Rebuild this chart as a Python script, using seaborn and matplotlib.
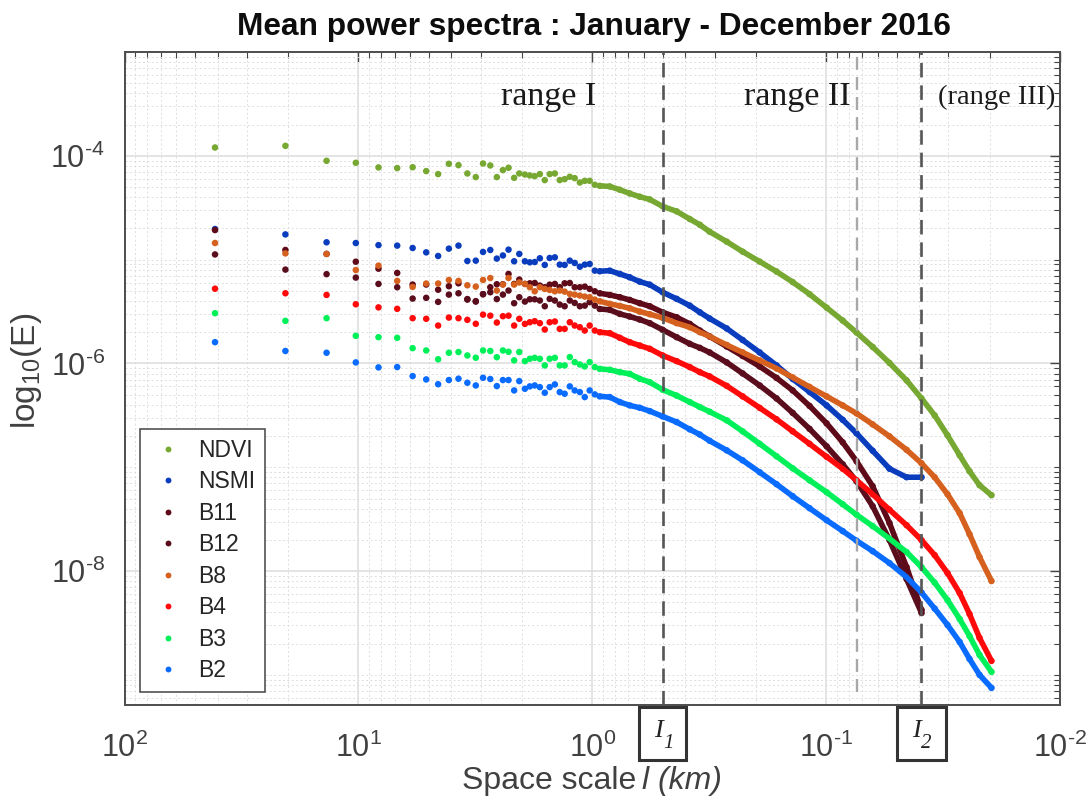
import matplotlib
matplotlib.use("Agg")
import matplotlib.pyplot as plt
from matplotlib.patches import Rectangle
from matplotlib.ticker import FixedLocator, FixedFormatter, LogLocator, NullFormatter
import numpy as np
import pandas as pd
import seaborn as sns

# log10 of the space scale l (km)
log_scale = [1.613, 1.312, 1.136, 1.011, 0.914, 0.834, 0.768, 0.710, 0.659, 0.613,
             0.572, 0.534, 0.498, 0.467, 0.436, 0.408, 0.382, 0.358, 0.334, 0.312,
             0.288, 0.267, 0.246, 0.224, 0.203, 0.182, 0.160, 0.139, 0.118, 0.096,
             0.075, 0.053, 0.032, 0.011, -0.011, -0.032, -0.075, -0.118, -0.160, -0.203,
             -0.246, -0.301, -0.361, -0.417, -0.460,
             -0.502, -0.575, -0.643, -0.716, -0.788, -0.857, -0.929, -1.002, -1.071, -1.130,
             -1.199, -1.271, -1.344, -1.408, -1.464, -1.519, -1.571, -1.613, -1.656, -1.707]

# log10(E) per series
ndvi = [-3.92, -3.904, -4.048, -4.067, -4.112, -4.118, -4.11, -4.147, -4.176, -4.077,
        -4.09, -4.17, -4.205, -4.074, -4.093, -4.205, -4.138, -4.115, -4.212, -4.17,
        -4.180, -4.189, -4.196, -4.176, -4.234, -4.176, -4.170, -4.234, -4.225, -4.202,
        -4.215, -4.257, -4.241, -4.241, -4.279, -4.289, -4.295, -4.327, -4.362, -4.394,
        -4.420, -4.487, -4.535, -4.609, -4.664,
        -4.731, -4.827, -4.923, -5.019, -5.115, -5.216, -5.332, -5.462, -5.587, -5.702,
        -5.841, -5.995, -6.163, -6.337, -6.5, -6.692, -6.885, -7.038, -7.173, -7.269]
nsmi = [-4.705, -4.757, -4.833, -4.84, -4.86, -4.865, -4.888, -4.93, -4.965, -4.894,
        -4.865, -5.013, -5.01, -4.926, -4.907, -4.99, -4.96, -4.904, -5.016, -4.945,
        -5.016, -5.026, -5.023, -4.987, -5.051, -4.984, -4.978, -5.048, -5.051, -5.010,
        -5.032, -5.068, -5.048, -5.042, -5.106, -5.112, -5.106, -5.138, -5.170, -5.212,
        -5.241, -5.314, -5.378, -5.443, -5.507,
        -5.567, -5.663, -5.774, -5.894, -6.019, -6.149, -6.274, -6.404, -6.543, -6.673,
        -6.841, -7.014, -7.096, -7.096]
b11 = [-4.715, -4.907, -4.945, -5.02, -5.087, -5.128, -5.24, -5.24, -5.29, -5.256,
       -5.228, -5.38, -5.40, -5.333, -5.266, -5.237, -5.237, -5.138, -5.234, -5.192,
       -5.234, -5.228, -5.225, -5.250, -5.266, -5.241, -5.234, -5.266, -5.228, -5.225,
       -5.266, -5.266, -5.260, -5.282, -5.305, -5.324, -5.340, -5.362, -5.388, -5.420,
       -5.449, -5.507, -5.555, -5.619, -5.683,
       -5.740, -5.837, -5.928, -6.029, -6.139, -6.260, -6.409, -6.577, -6.760, -6.942,
       -7.183, -7.538, -7.962, -8.375]
b12 = [-4.95, -5.096, -5.14, -5.173, -5.234, -5.266, -5.375, -5.368, -5.407, -5.337,
       -5.324, -5.385, -5.404, -5.333, -5.314, -5.38, -5.337, -5.298, -5.42, -5.362,
       -5.404, -5.382, -5.382, -5.394, -5.449, -5.378, -5.394, -5.433, -5.449, -5.394,
       -5.417, -5.449, -5.443, -5.410, -5.443, -5.475, -5.484, -5.523, -5.548, -5.577,
       -5.612, -5.676, -5.747, -5.811, -5.850,
       -5.894, -5.990, -6.096, -6.212, -6.337, -6.476, -6.630, -6.798, -6.971, -7.135,
       -7.375, -7.702, -8.077, -8.404]
b8 = [-4.84, -4.94, -4.945, -5.10, -5.058, -5.205, -5.263, -5.23, -5.23, -5.196,
      -5.205, -5.247, -5.26, -5.196, -5.177, -5.298, -5.24, -5.177, -5.24, -5.22,
      -5.234, -5.266, -5.305, -5.266, -5.282, -5.292, -5.305, -5.298, -5.308, -5.330,
      -5.337, -5.346, -5.356, -5.362, -5.385, -5.401, -5.426, -5.446, -5.468, -5.500,
      -5.526, -5.561, -5.612, -5.651, -5.699,
      -5.740, -5.822, -5.894, -5.971, -6.048, -6.135, -6.226, -6.317, -6.404, -6.481,
      -6.587, -6.702, -6.832, -6.962, -7.096, -7.260, -7.442, -7.644, -7.865, -8.096]
b4 = [-5.28, -5.324, -5.34, -5.43, -5.46, -5.474, -5.564, -5.57, -5.635, -5.558,
      -5.564, -5.58, -5.618, -5.53, -5.54, -5.606, -5.545, -5.54, -5.635, -5.57,
      -5.619, -5.603, -5.593, -5.612, -5.673, -5.603, -5.596, -5.667, -5.667, -5.603,
      -5.635, -5.651, -5.683, -5.635, -5.683, -5.699, -5.709, -5.753, -5.795, -5.827,
      -5.859, -5.923, -5.978, -6.035, -6.084,
      -6.125, -6.216, -6.317, -6.428, -6.538, -6.654, -6.774, -6.899, -7.014, -7.125,
      -7.260, -7.409, -7.558, -7.702, -7.846, -8.019, -8.212, -8.413, -8.644, -8.865]
b3 = [-5.516, -5.59, -5.564, -5.734, -5.747, -5.753, -5.853, -5.875, -5.96, -5.897,
      -5.89, -5.923, -5.945, -5.875, -5.88, -5.94, -5.875, -5.888, -5.97, -5.89,
      -5.978, -5.955, -5.946, -5.955, -6.019, -5.955, -5.946, -6.019, -6.019, -5.939,
      -5.987, -6.010, -6.029, -5.987, -6.035, -6.052, -6.061, -6.084, -6.100, -6.148,
      -6.180, -6.253, -6.310, -6.372, -6.420,
      -6.465, -6.548, -6.654, -6.774, -6.894, -7.010, -7.125, -7.240, -7.356, -7.457,
      -7.567, -7.688, -7.817, -7.962, -8.111, -8.279, -8.462, -8.625, -8.808, -8.971]
b2 = [-5.795, -5.88, -5.897, -5.99, -6.038, -6.035, -6.122, -6.154, -6.2, -6.16,
      -6.147, -6.186, -6.212, -6.138, -6.15, -6.218, -6.16, -6.16, -6.26, -6.17,
      -6.244, -6.221, -6.212, -6.228, -6.282, -6.228, -6.202, -6.276, -6.292, -6.221,
      -6.260, -6.276, -6.324, -6.260, -6.298, -6.317, -6.324, -6.372, -6.404, -6.427,
      -6.459, -6.510, -6.565, -6.635, -6.685,
      -6.745, -6.837, -6.933, -7.048, -7.163, -7.279, -7.394, -7.510, -7.615, -7.707,
      -7.808, -7.923, -8.058, -8.207, -8.361, -8.519, -8.683, -8.846, -9.0, -9.125]

names = ["NDVI", "NSMI", "B11", "B12", "B8", "B4", "B3", "B2"]
series = [ndvi, nsmi, b11, b12, b8, b4, b3, b2]
colors = ["#76A832", "#0A3CBE", "#5E0A18", "#5A0D1C", "#D6601E", "#FF0A0A", "#00F05A", "#0A6CFF"]

l1_km, mid_km, l2_km = 0.5, 0.074, 0.0393

sns.set_theme(style="white")
plt.rcParams.update({
    "font.family": ["Liberation Sans", "DejaVu Sans"],
    "mathtext.fontset": "custom",
    "mathtext.rm": "Liberation Sans",
    "mathtext.it": "Liberation Sans:italic",
    "mathtext.bf": "Liberation Sans:bold",
    "mathtext.default": "regular",
})

rows = []
for name, vals in zip(names, series):
    for lx, ly in zip(log_scale, vals):
        rows.append({"series": name, "l": 10.0 ** lx, "E": 10.0 ** ly})
df = pd.DataFrame(rows)
palette = dict(zip(names, colors))

W, H = 1092, 798
L, R, T, B = 124.5, 1060, 52, 705
fig = plt.figure(figsize=(W / 100, H / 100), dpi=100, facecolor="white")
ax = fig.add_axes([L / W, (H - B) / H, (R - L) / W, (B - T) / H])

sns.lineplot(data=df[df["l"] <= 0.93], x="l", y="E", hue="series", hue_order=names, palette=palette,
             estimator=None, sort=False, lw=4.0, legend=False, ax=ax, solid_capstyle="round")
sns.scatterplot(data=df, x="l", y="E", hue="series", hue_order=names, palette=palette,
                s=22, linewidth=0, ax=ax, zorder=1.5)

ax.set_xscale("log")
ax.set_yscale("log")
ax.set_xlim(100, 0.01)
ax.set_ylim(10 ** -9.29, 1e-3)

ax.xaxis.set_major_locator(FixedLocator([1e2, 1e1, 1e0, 1e-1, 1e-2]))
ax.xaxis.set_major_formatter(FixedFormatter([r"$10^{2}$", r"$10^{1}$", r"$10^{0}$", r"$10^{\text{-}1}$", r"$10^{\text{-}2}$"]))
ax.yaxis.set_major_locator(FixedLocator([1e-8, 1e-6, 1e-4]))
ax.yaxis.set_major_formatter(FixedFormatter([r"$10^{\text{-}8}$", r"$10^{\text{-}6}$", r"$10^{\text{-}4}$"]))
ax.xaxis.set_minor_locator(LogLocator(base=10, subs=range(2, 10), numticks=50))
ax.yaxis.set_minor_locator(LogLocator(base=10, subs=range(1, 10), numticks=50))
ax.xaxis.set_minor_formatter(NullFormatter())
ax.yaxis.set_minor_formatter(NullFormatter())

ax.set_axisbelow(True)
ax.grid(True, which="major", color="#dcdcdc", lw=1.1, ls="-")
ax.grid(True, which="minor", color="#dedede", lw=0.7, ls=(0, (2, 2.5)))
ax.tick_params(which="major", direction="in", length=7, width=1.0, color="#444444",
               labelsize=22, labelcolor="#404040", top=True, right=True, pad=14)
ax.tick_params(axis="x", which="major", pad=20)
ax.tick_params(which="minor", direction="in", length=4, width=0.8, color="#444444", top=True, right=True)
for s in ax.spines.values():
    s.set_color("#4d4d4d")
    s.set_linewidth(1.4)

ax.axvline(l1_km, color="#555555", lw=1.9, ls=(0, (5.5, 3)), zorder=4)
ax.axvline(mid_km, color="#a8a8a8", lw=1.7, ls=(0, (5.5, 3)), ymin=0.02, zorder=4)
ax.axvline(l2_km, color="#555555", lw=1.9, ls=(0, (5.5, 3)), zorder=4)

ax.set_xlabel("")
ax.set_ylabel("")
fig.text(636 / W, 1 - 781 / H, "Space scale", ha="right", va="center", fontsize=23, color="#404040")
fig.text(642 / W, 1 - 781 / H, "l (km)", ha="left", va="center", fontsize=23, style="italic", color="#404040")
fig.text(26 / W, 1 - 371 / H, r"$log_{10}(E)$", rotation=90, ha="center", va="center",
         fontsize=24, color="#404040")
fig.text(593.5 / W, 1 - 27 / H, "Mean power spectra : January - December 2016", ha="center", va="center",
         fontsize=22.8, fontweight="bold", color="#0d0d0d")

serif = ["Liberation Serif", "DejaVu Serif"]
fig.text(549 / W, 1 - 97 / H, "range I", ha="center", va="center", family=serif, fontsize=24.5, color="#1a1a1a")
fig.text(797 / W, 1 - 97 / H, "range II", ha="center", va="center", family=serif, fontsize=24.5, color="#1a1a1a")
fig.text(997 / W, 1 - 97 / H, "(range III)", ha="center", va="center", family=serif, fontsize=20.5,
         color="#1a1a1a")

for x0, x1, num in [(639, 686, "1"), (897, 946, "2")]:
    fig.add_artist(Rectangle((x0 / W, 1 - 760 / H), (x1 - x0) / W, 53 / H, transform=fig.transFigure,
                             fill=True, facecolor="white", edgecolor="#333333", lw=2.2, zorder=5))
    fig.text((x0 + 19) / W, 1 - 731 / H, "I", ha="center", va="center", family=serif, style="italic",
             fontsize=19, color="#222222", zorder=6)
    fig.text((x0 + 29) / W, 1 - 744 / H, num, ha="center", va="center", family=serif, style="italic",
             fontsize=15, color="#222222", zorder=6)

handles, labels = ax.get_legend_handles_labels()
leg = ax.legend(handles, labels, loc="lower left", bbox_to_anchor=((140 - L) / (R - L), (B - 692) / (B - T)),
                borderaxespad=0, frameon=True, fancybox=False, fontsize=16.5, labelspacing=0.37,
                handletextpad=0.5, handlelength=1.6, borderpad=0.42, markerscale=0.9, labelcolor="#262626")
leg.get_frame().set_edgecolor("#444444")
leg.get_frame().set_linewidth(1.1)
leg.get_frame().set_alpha(1)
leg.set_zorder(6)

fig.savefig("out.png", dpi=100)
